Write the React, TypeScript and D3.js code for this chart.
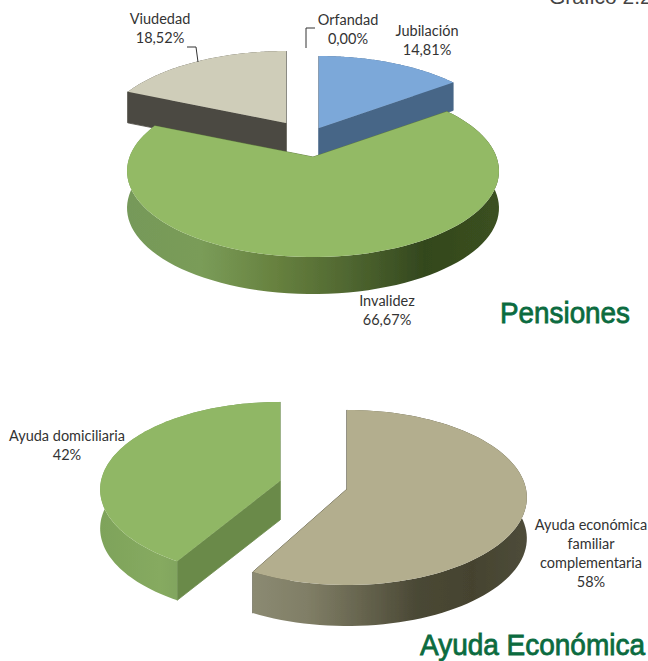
import React from "react";
import * as d3 from "d3";

// ---- data ----
const pensionLabels = ["Jubilación", "Invalidez", "Viudedad", "Orfandad"];
const pensionValues = [14.81, 66.67, 18.52, 0];
const pensionPercents = ["14,81%", "66,67%", "18,52%", "0,00%"];
const ayudaLabels = ["Ayuda económica familiar complementaria", "Ayuda domiciliaria"];
const ayudaValues = [58, 42];
const ayudaPercents = ["58%", "42%"];

// ---- layout and style ----
const W = 648, H = 661;
type Pt = [number, number];
type Style = { top: string; cut: string; wall: string[] };
type Layout = { apex: Pt; depth: number; startShift?: number; style: Style };

const greenWall = ["#76995a", "#7a9c58", "#67813f", "#4f6630", "#33471e", "#3b5020"];

const pensionProj = { R: 183.5, V: 83.7, p: 0.163 };
const pensionLayout: Layout[] = [
  { apex: [319, 128], depth: 28, style: { top: "#7ca8d9", cut: "#476687", wall: ["#476687", "#476687"] } },
  { apex: [313, 157], depth: 37, style: { top: "#93ba65", cut: "#5f7b40", wall: greenWall } },
  { apex: [286, 123], depth: 31, style: { top: "#cfcdb9", cut: "#4c4a42", wall: ["#4c4a42", "#4c4a42"] } },
];
const pensionOrder = [2, 0, 1];

const ayudaProj = { R: 179, V: 86.7, p: 0.097 };
const ayudaLayout: Layout[] = [
  { apex: [347, 489], depth: 41, style: { top: "#b3ae8e", cut: "#55533f", wall: ["#8b8a72", "#807e66", "#66644e", "#4a4835", "#45432f", "#4e4c3a"] } },
  { apex: [280, 481], depth: 39, startShift: Math.PI / 60, style: { top: "#90b765", cut: "#6b8a4a", wall: ["#7ea35a", "#86aa60", "#76995a", "#6f9050"] } },
];
const ayudaOrder = [1, 0];

const pieGen = d3.pie<number>().sort(null).startAngle(0).endAngle(2 * Math.PI);
const lineGen = d3.line<Pt>().x(d => d[0]).y(d => d[1]);

function project(a: number, apex: Pt, P: { R: number; V: number; p: number }): Pt {
  const w = 1 + P.p * Math.cos(a);
  return [apex[0] + (P.R * Math.sin(a)) / w, apex[1] - (P.V * Math.cos(a)) / w];
}

function Slice({ id, a0, a1, L, P }: { id: string; a0: number; a1: number; L: Layout; P: { R: number; V: number; p: number } }) {
  const n = 90;
  const start = a0 + (L.startShift ?? 0);
  const rim = d3.range(n + 1).map(i => project(start + ((a1 - start) * i) / n, L.apex, P));
  const down = (q: Pt): Pt => [q[0], q[1] + L.depth];
  const first = rim[0], last = rim[n];
  const xs = d3.extent(rim, d => d[0]) as [number, number];
  const wallStops = d3.scaleLinear().domain([0, L.style.wall.length - 1]).range([0, 100]);
  const radial = (q: Pt) => lineGen([L.apex, q, down(q), down(L.apex)]) + "Z";
  return (
    <g>
      <defs>
        <linearGradient id={id} gradientUnits="userSpaceOnUse" x1={xs[0]} x2={xs[1]} y1={0} y2={0}>
          {L.style.wall.map((c, i) => <stop key={i} offset={`${wallStops(i)}%`} stopColor={c} />)}
        </linearGradient>
      </defs>
      <path d={radial(first)} fill={L.style.cut} stroke={L.style.cut} strokeWidth={0.8} />
      <path d={radial(last)} fill={L.style.cut} stroke={L.style.cut} strokeWidth={0.8} />
      <path d={lineGen([...rim, ...rim.map(down).reverse()]) + "Z"} fill={`url(#${id})`} />
      <path d={lineGen([L.apex, ...rim]) + "Z"} fill={L.style.top} />
    </g>
  );
}

function Label({ x, y, lines }: { x: number; y: number; lines: string[] }) {
  return (
    <text x={x} y={y} textAnchor="middle" fontFamily="Lato, 'Open Sans', sans-serif" fontSize={14.5} fill="#333">
      {lines.map((t, i) => <tspan key={i} x={x} dy={i === 0 ? 0 : 19}>{t}</tspan>)}
    </text>
  );
}

export default function App() {
  const pArcs = pieGen(pensionValues);
  const aArcs = pieGen(ayudaValues);
  return (
    <svg width={W} height={H} viewBox={`0 0 ${W} ${H}`} style={{ position: "absolute", left: 0, top: 0, background: "#fff" }}>
      <defs>
        <filter id="soft" x="-5%" y="-5%" width="110%" height="110%">
          <feGaussianBlur stdDeviation={0.5} />
        </filter>
      </defs>
      <text x={549} y={4} fontFamily="'Liberation Sans', Arial, sans-serif" fontSize={21} fill="#444">Gráfico 2.2</text>

      <g filter="url(#soft)">
        {pensionOrder.map(i => (
          <Slice key={i} id={`p${i}`} a0={pArcs[i].startAngle} a1={pArcs[i].endAngle} L={pensionLayout[i]} P={pensionProj} />
        ))}
        {ayudaOrder.map(i => (
          <Slice key={i} id={`a${i}`} a0={aArcs[i].startAngle} a1={aArcs[i].endAngle} L={ayudaLayout[i]} P={ayudaProj} />
        ))}
      </g>

      <path d="M306,48V28H315" fill="none" stroke="#333" strokeWidth={1} />
      <path d="M187,47H196L198,62" fill="none" stroke="#333" strokeWidth={1} />

      <Label x={160} y={24} lines={[pensionLabels[2], pensionPercents[2]]} />
      <Label x={348} y={25} lines={[pensionLabels[3], pensionPercents[3]]} />
      <Label x={427} y={36} lines={[pensionLabels[0], pensionPercents[0]]} />
      <Label x={387} y={306} lines={[pensionLabels[1], pensionPercents[1]]} />
      <Label x={67} y={441} lines={[ayudaLabels[1], ayudaPercents[1]]} />
      <Label x={591} y={530} lines={["Ayuda económica", "familiar", "complementaria", ayudaPercents[0]]} />

      <text x={500} y={323} textLength={130} lengthAdjust="spacingAndGlyphs" fontFamily="'Liberation Sans', sans-serif" fontSize={30} fill="#0b6b3f" stroke="#0b6b3f" strokeWidth={0.8}>Pensiones</text>
      <text x={420} y={655} textLength={225} lengthAdjust="spacingAndGlyphs" fontFamily="'Liberation Sans', sans-serif" fontSize={29} fill="#0b6b3f" stroke="#0b6b3f" strokeWidth={0.8}>Ayuda Económica</text>
    </svg>
  );
}
